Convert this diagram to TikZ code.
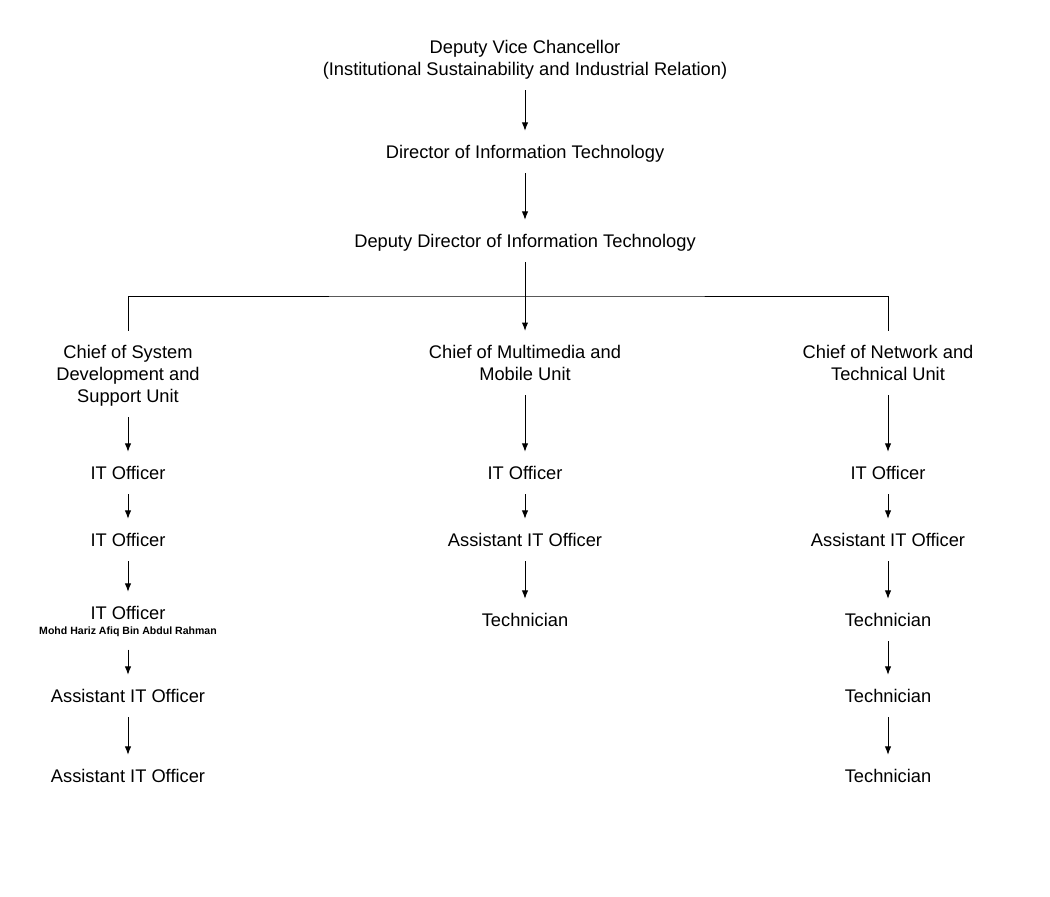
\documentclass[tikz,border=0pt]{standalone}
\usepackage{fontspec}
\setmainfont{Liberation Sans}
\usetikzlibrary{arrows.meta, positioning}
\tikzset{
    post/.style ={inner xsep=0pt, inner ysep=10pt, align=center, font=\fontsize{13}{15.6}\selectfont, text height=9.3pt, text depth=0pt},
    rows2/.style ={post, text height=24.9pt},
    rows3/.style ={post, text height=40.5pt},
    holder/.style ={inner xsep=0pt, inner ysep=10.1pt, font=\fontsize{7.5}{9}\selectfont\bfseries, text height=5.4pt, text depth=0pt},
    link/.style ={-{Latex[length=6pt,width=4.5pt]}}
}

\begin{document}
\begin{tikzpicture}
  [x=0.025cm, y=-0.025cm, line width=0.7pt]

  \useasboundingbox (0,0) rectangle (1050,896);

  \node[rows2] (dvc) at (525,58) {Deputy Vice Chancellor\\(Institutional Sustainability and Industrial Relation)};
  \node[post] (dit) at (525,152) {Director of Information Technology};
  \node[post] (ddit) at (525,241) {Deputy Director of Information Technology};

  \node[rows3] (csd) at (128,374) {Chief of System\\Development and\\Support Unit};
  \node[rows2] (cmm) at (525,363) {Chief of Multimedia and\\Mobile Unit};
  \node[rows2] (cnt) at (888,363) {Chief of Network and\\Technical Unit};

  % system development and support
  \node[post] (sd1) at (128,473) {IT Officer};
  \node[post] (sd2) at (128,540) {IT Officer};
  \node[post] (sd3) at (128,613) {IT Officer};
  \node[holder] (sd3name) at (128,631) {Mohd Hariz Afiq Bin Abdul Rahman};
  \node[post] (sd4) at (128,696) {Assistant IT Officer};
  \node[post] (sd5) at (128,776) {Assistant IT Officer};

  % multimedia and mobile
  \node[post] (mm1) at (525,473) {IT Officer};
  \node[post] (mm2) at (525,540) {Assistant IT Officer};
  \node[post] (mm3) at (525,620) {Technician};

  % network and technical
  \node[post] (nt1) at (888,473) {IT Officer};
  \node[post] (nt2) at (888,540) {Assistant IT Officer};
  \node[post] (nt3) at (888,620) {Technician};
  \node[post] (nt4) at (888,696) {Technician};
  \node[post] (nt5) at (888,776) {Technician};

  \path[link] (dvc) edge (dit);
  \path[link] (dit) edge (ddit);
  \path[link] (ddit) edge (cmm);

  \coordinate (bar) at (525,296);
  \draw (csd.north) |- (bar) -| (cnt.north);

  \path[link] (csd) edge (sd1);
  \path[link] (sd1) edge (sd2);
  \path[link] (sd2) edge (sd3);
  \path[link] (sd3name) edge (sd4);
  \path[link] (sd4) edge (sd5);

  \path[link] (cmm) edge (mm1);
  \path[link] (mm1) edge (mm2);
  \path[link] (mm2) edge (mm3);

  \path[link] (cnt) edge (nt1);
  \path[link] (nt1) edge (nt2);
  \path[link] (nt2) edge (nt3);
  \path[link] (nt3) edge (nt4);
  \path[link] (nt4) edge (nt5);
\end{tikzpicture}
\end{document}
